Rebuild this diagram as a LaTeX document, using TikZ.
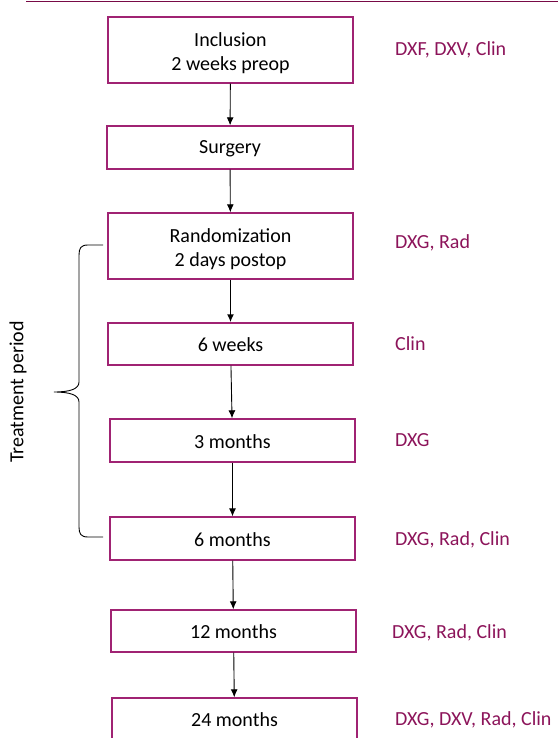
\documentclass[tikz,border=0pt]{standalone}
\usepackage{fontspec}
\setmainfont{Carlito}
\usetikzlibrary{arrows.meta}
\definecolor{boxline}{RGB}{160,35,115}
\definecolor{labtext}{RGB}{140,20,90}
\definecolor{topline}{RGB}{120,10,70}
\tikzset{
  stepbox/.style={draw=boxline, line width=1.4pt, rectangle, minimum width=245pt, inner sep=0pt},
  boxtext/.style={align=center, inner sep=0pt, font=\fontsize{20}{24}\selectfont},
  twoline/.style={boxtext, yshift=-3pt},
  oneline/.style={boxtext, yshift=-1pt},
  flow/.style={draw=black, line width=0.9pt, -{Latex[length=8pt,width=7pt]}},
  lab/.style={anchor=west, inner sep=0pt, text=labtext, font=\fontsize{20}{24}\selectfont},
}
\begin{document}
\begin{tikzpicture}[x=1pt,y=-1pt]
\useasboundingbox (0,0) rectangle (558,738);
\clip (0,0) rectangle (558,738);
\draw[topline, line width=1.5pt] (26,1.5) -- (558,1.5);

\node[stepbox, minimum height=66pt, label={[twoline]center:Inclusion\\2 weeks preop}] (b1) at (230.5,50) {};
\node[stepbox, minimum height=43pt, minimum width=246pt, label={[oneline]center:Surgery}] (b2) at (230,147.5) {};
\node[stepbox, minimum height=66pt, label={[twoline]center:Randomization\\2 days postop}] (b3) at (230.5,246) {};
\node[stepbox, minimum height=42pt, label={[oneline]center:6 weeks}] (b4) at (230.5,344) {};
\node[stepbox, minimum height=43pt, label={[oneline]center:3 months}] (b5) at (232.5,440.5) {};
\node[stepbox, minimum height=43pt, label={[oneline]center:6 months}] (b6) at (232.5,538.5) {};
\node[stepbox, minimum height=42pt, label={[oneline]center:12 months}] (b7) at (233.5,631) {};
\node[stepbox, minimum height=42pt, label={[oneline]center:24 months}] (b8) at (234.5,719) {};

\draw[flow] (b1) -- (b2);
\draw[flow] (b2) -- (b3);
\draw[flow, line width=1.8pt] (b3) -- (b4);
\draw[flow] (b4) -- (b5);
\draw[flow] (b5) -- (b6);
\draw[flow] (b6) -- (b7);
\draw[flow] (b7) -- (b8);

\node[lab] (l1) at (395,50) {DXF, DXV, Clin};
\node[lab] (l3) at (395,243) {DXG, Rad};
\node[lab] (l4) at (395,344) {Clin};
\node[lab] (l5) at (395,440) {DXG};
\node[lab] (l6) at (395,540) {DXG, Rad, Clin};
\node[lab] (l7) at (392,633) {DXG, Rad, Clin};
\node[lab] (l8) at (395,720) {DXG, DXV, Rad, Clin};

\draw[black, line width=0.9pt] (103,245) -- (88,245) .. controls (81,245) and (79,248) .. (79,255) -- (79,382)
  .. controls (79,389) and (70,392) .. (54,392)
  .. controls (70,392) and (79,395) .. (79,402) -- (79,527)
  .. controls (79,534) and (81,537) .. (88,537) -- (103,537);
\node[rotate=90, inner sep=0pt, font=\fontsize{20}{24}\selectfont] (tp) at (18,392) {Treatment period};
\end{tikzpicture}
\end{document}
